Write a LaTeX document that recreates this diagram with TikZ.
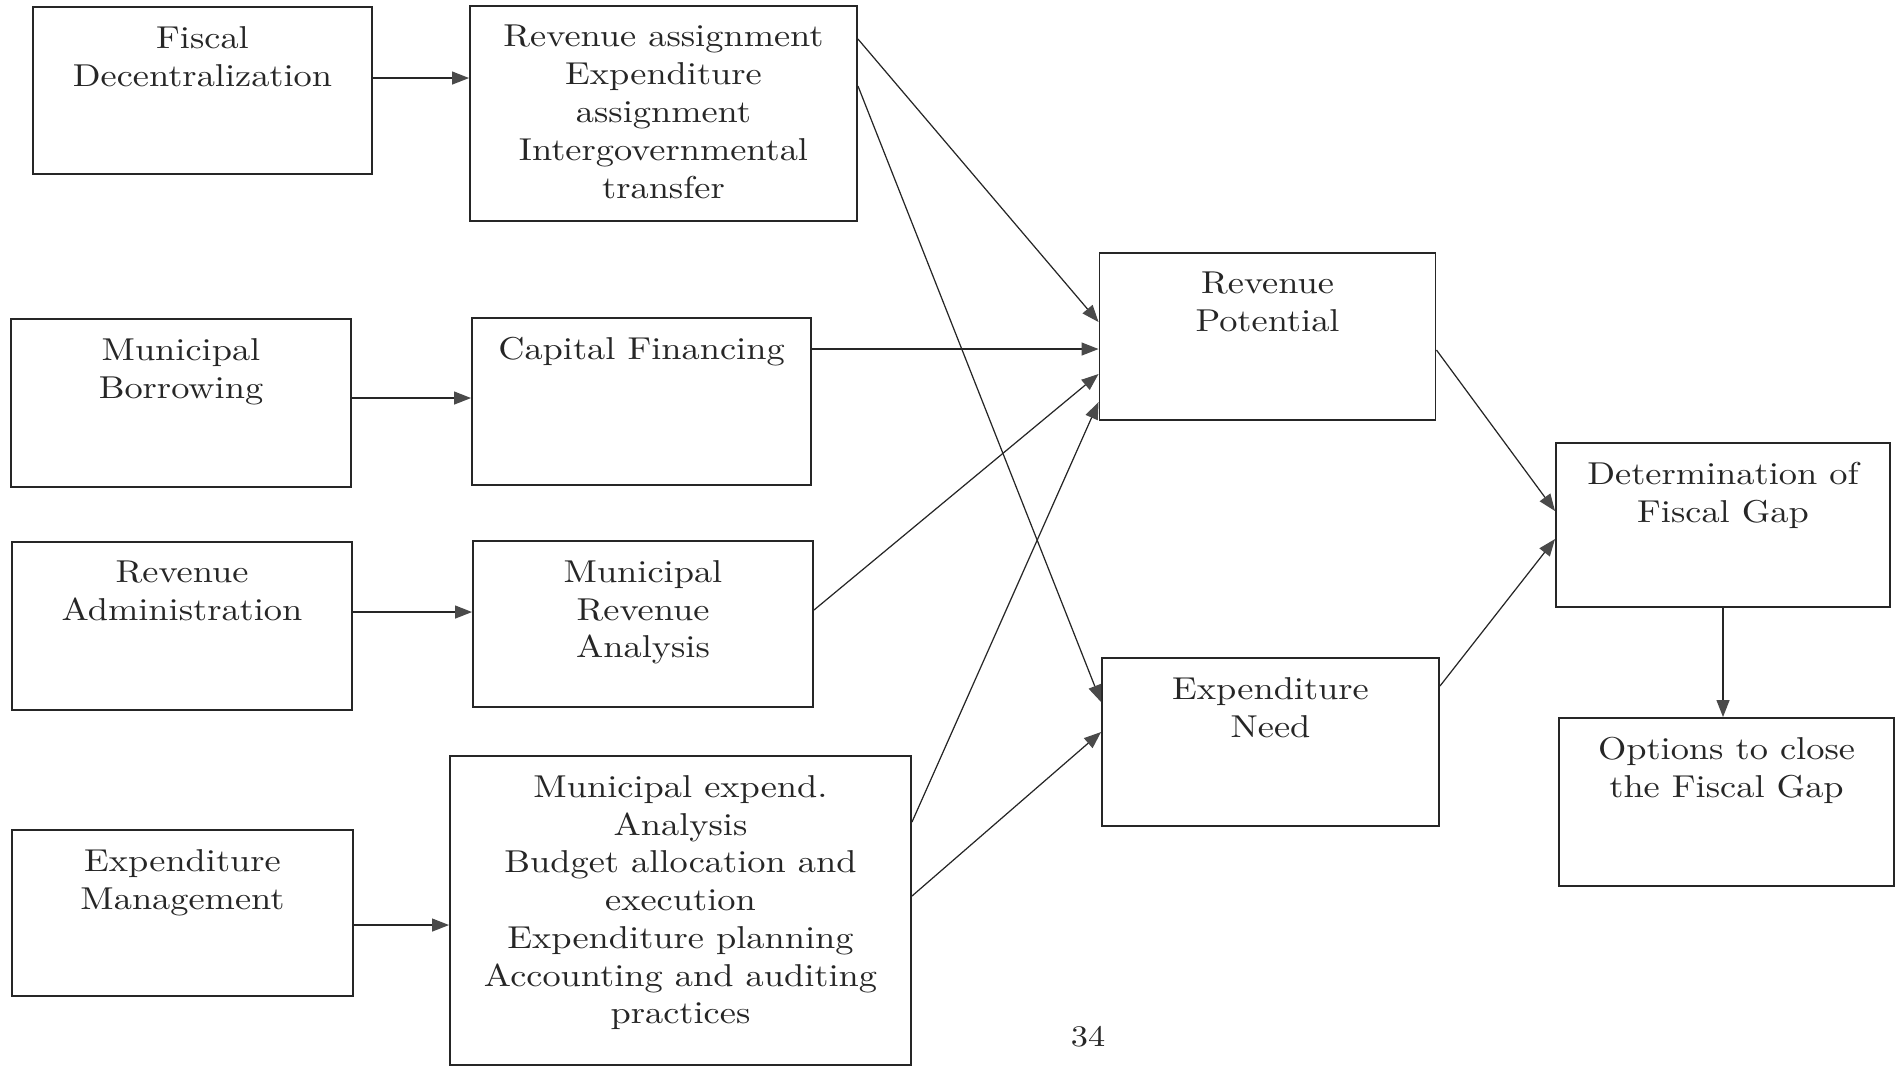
\documentclass[tikz,border=0pt]{standalone}
\usepackage{fontspec}
\setmainfont{lmroman10-regular.otf}[FakeStretch=1.15]
\usetikzlibrary{arrows.meta,calc}
\definecolor{ink}{HTML}{262626}
\definecolor{tipgrey}{HTML}{4A4A4A}
\tikzset{
  x=0.02cm, y=-0.02cm,
  frame/.style={draw=ink, line width=1.1pt, rectangle, inner sep=0pt},
  label text/.style={anchor=north, inner sep=0pt, align=center, text=ink,
    font=\fontsize{18}{21.5}\selectfont},
  link/.style={draw=ink, line width=0.7pt,
    -{Triangle[length=0.34cm, width=0.26cm, color=tipgrey, fill=tipgrey]}},
}
% a framed box at a centre point, with its text hanging from the top edge
\newcommand\panel[6]{%
  \node[frame, minimum width=#3*0.02cm, minimum height=#4*0.02cm] (#5) at (#1,#2) {};
  \node[label text] (#5-t) at ($(#5.north)+(0,20)$) {#6};
}
\begin{document}
\begin{tikzpicture}
\useasboundingbox (0,0) rectangle (1896,1067);

% left column
\panel{202.5}{90.5}{339}{167}{fd}{Fiscal\\Decentralization}
\panel{181}{403}{340}{168}{mb}{Municipal\\Borrowing}
\panel{182}{626}{340}{168}{rad}{Revenue\\Administration}
\panel{182.5}{913}{341}{166}{em}{Expenditure\\Management}

% second column
\panel{663.5}{113.5}{387}{215}{ra}{Revenue assignment\\Expenditure\\assignment\\Intergovernmental\\transfer}
\panel{641.5}{401.5}{339}{167}{cf}{Capital Financing}
\panel{643}{624}{340}{166}{mra}{Municipal\\Revenue\\Analysis}
\panel{680.5}{910.5}{461}{309}{mea}{Municipal expend.\\Analysis\\Budget allocation and\\execution\\Expenditure planning\\Accounting and auditing\\practices}

% third column
\panel{1267.5}{336.5}{336}{167}{rp}{Revenue\\Potential}
\panel{1270.5}{742}{337}{168}{en}{Expenditure\\Need}

% right column
\panel{1723}{525}{334}{164}{dfg}{Determination of\\Fiscal Gap}
\panel{1726.5}{802}{335}{168}{opt}{Options to close\\the Fiscal Gap}

% page number
\node[text=ink, inner sep=0pt, font=\fontsize{17}{20}\selectfont] (pg) at (1088,1037) {34};

% left column to second column
\draw[link] ($(fd.north east)+(0,72)$) coordinate (a1) -- (a1 -| ra.west);
\draw[link] ($(mb.north east)+(0,80)$) coordinate (a2) -- (a2 -| cf.west);
\draw[link] ($(rad.north east)+(0,71)$) coordinate (a3) -- (a3 -| mra.west);
\draw[link] ($(em.north east)+(0,96)$) coordinate (a4) -- (a4 -| mea.west);

% second column to third column
\draw[link] ($(ra.north east)+(0,34)$) -- ($(rp.north west)+(0,70)$);
\draw[link] ($(ra.north east)+(0,81)$) -- ($(en.north west)+(0,45)$);
\draw[link] ($(cf.north east)+(0,32)$) coordinate (b1) -- (b1 -| rp.west);
\draw[link] ($(mra.north east)+(0,70)$) -- ($(rp.north west)+(0,122)$);
\draw[link] ($(mea.north east)+(0,67)$) -- ($(rp.north west)+(0,150)$);
\draw[link] ($(mea.north east)+(0,141)$) -- ($(en.north west)+(0,75)$);

% third column to the fiscal gap
\draw[link] ($(rp.north east)+(0,98)$) -- ($(dfg.north west)+(0,69)$);
\draw[link] ($(en.north east)+(0,29)$) -- ($(dfg.north west)+(0,97)$);
\draw[link] (dfg.south) -- (dfg.south |- opt.north);
\end{tikzpicture}
\end{document}
